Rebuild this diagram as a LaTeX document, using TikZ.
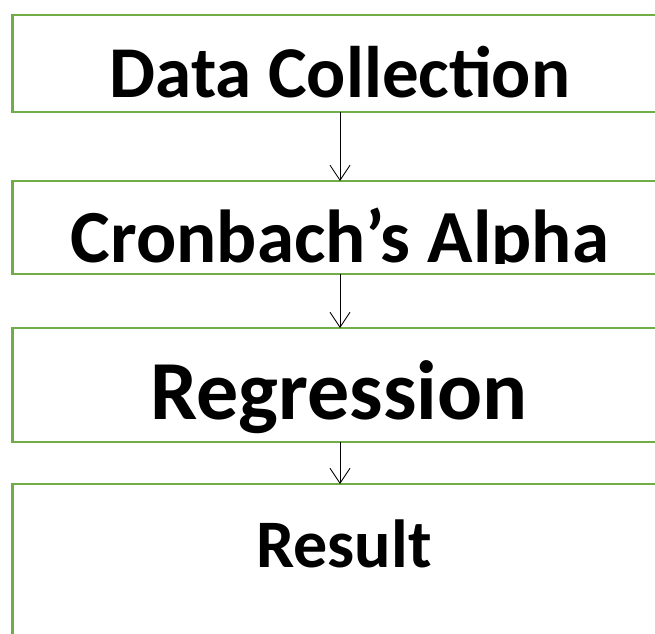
\documentclass[tikz,border=0pt]{standalone}
\usepackage{fontspec}
\setmainfont{Carlito}
\usetikzlibrary{arrows.meta,positioning}
\definecolor{stagegreen}{HTML}{70AD47}

\begin{document}
\begin{tikzpicture}[
  x=1pt, y=1pt,
  stage/.style={draw=stagegreen, line width=2.5pt, minimum width=655pt,
                inner sep=0pt, outer sep=0pt},
  title/.style={anchor=base, inner sep=0pt},
  arrow/.style={-{Straight Barb[length=15pt,width=20pt]}, line width=0.9pt},
]
\useasboundingbox (0,0) rectangle (655,-633);

% the four stages, boxes run past the right and bottom edges
\node[stage, minimum height=97pt] (collect) at (340,-63.5) {};
\node[stage, minimum height=93pt, below=69pt of collect] (alpha) {};
\node[stage, minimum height=114pt, below=54pt of alpha] (regress) {};
\node[stage, minimum height=170pt, below=42pt of regress] (result) {};

% titles (clipped where they overrun)
\node[title, font=\bfseries\fontsize{73}{80}\selectfont] (collecttxt) at (340,-97) {Data Collection};
\begin{scope}
  \clip (0,-181) rectangle (655,-263);
  \node[title, font=\bfseries\fontsize{75}{82}\selectfont] (alphatxt) at (340,-262) {Cronbach’s Alpha};
\end{scope}
\begin{scope}
  \clip (0,-328) rectangle (655,-440);
  \node[title, font=\bfseries\fontsize{84}{92}\selectfont] (regresstxt) at (339,-419) {Regression};
\end{scope}
\node[title, font=\bfseries\fontsize{68}{75}\selectfont] (resulttxt) at (344,-567) {Result};

\draw[arrow] (collect) -- (alpha);
\draw[arrow] (alpha) -- (regress);
\draw[arrow] (regress) -- (result);
\end{tikzpicture}
\end{document}
